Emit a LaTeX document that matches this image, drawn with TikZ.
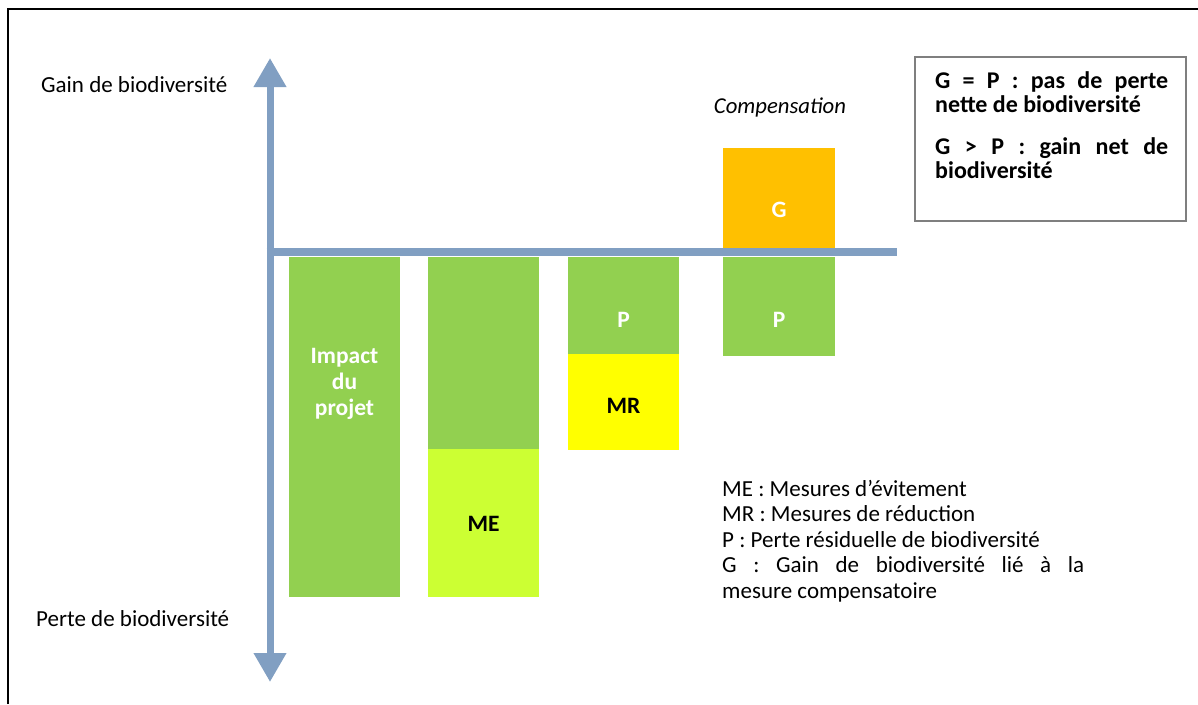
\documentclass[tikz,border=0pt]{standalone}
\usepackage{fontspec}
\setmainfont{Carlito}
\usetikzlibrary{arrows.meta}

\definecolor{vertbarre}{HTML}{92D050}
\definecolor{vertclair}{HTML}{CCFF33}
\definecolor{jaunebarre}{HTML}{FFFF00}
\definecolor{orangebarre}{HTML}{FFC000}
\definecolor{axebleu}{HTML}{819FC2}
\definecolor{cadregris}{HTML}{7F7F7F}

\tikzset{
    etiquette/.style={font=\fontsize{23.5}{26}\selectfont\bfseries, align=center, inner sep=0pt},
    texteaxe/.style={font=\fontsize{23}{25}\selectfont, anchor=west, inner sep=0pt}
}

\begin{document}
\begin{tikzpicture}[x=1pt,y=-1pt]
            \useasboundingbox (0,0) rectangle (1198,704);

            % cadre
            \draw[line width=2.5pt] (8,704) -- (8,9) -- (1198,9);

            % barres
            \fill[vertbarre] (289,257) rectangle (400,597);
            \fill[vertbarre] (428,257) rectangle (539,449);
            \fill[vertclair] (428,449) rectangle (539,597);
            \fill[vertbarre] (568,257) rectangle (679,354);
            \fill[jaunebarre] (568,354) rectangle (679,450);
            \fill[orangebarre] (723,148) rectangle (835,252);
            \fill[vertbarre] (723,257) rectangle (835,356);

            % axes
            \coordinate (bas) at (270,682);
            \coordinate (haut) at (270,58);
            \coordinate (origine) at (266.5,252);
            \coordinate (droite) at (897,252);
            \draw[axebleu, line width=7pt, {Triangle[width=31pt,length=29pt]}-{Triangle[width=31pt,length=29pt]}] (bas) -- (haut);
            \draw[axebleu, line width=8pt] (origine) -- (droite);

            \node[texteaxe] (gain) at (41,85) {Gain de biodiversité};
            \node[texteaxe] (perte) at (36,619) {Perte de biodiversité};

            % etiquettes des barres
            \node[etiquette, text=white] (impact) at (344.5,384) {Impact\\du\\projet};
            \node[etiquette] (me) at (483.5,524) {ME};
            \node[etiquette, text=white] (p1) at (623.5,320) {P};
            \node[etiquette] (mr) at (623.5,406) {MR};
            \node[etiquette, text=white] (g) at (779,210) {G};
            \node[etiquette, text=white] (p2) at (779,320) {P};
            \node[font=\fontsize{22.7}{25}\selectfont\itshape, inner sep=0pt] (comp) at (780,107) {Compensation};

            % encadre
            \draw[cadregris, line width=1.2pt] (915,57) rectangle (1186,221);
            \node[font=\fontsize{24}{24}\selectfont\bfseries, text width=233pt, align=justify,
                anchor=north west, inner sep=0pt] (bilan) at (935,71)
                {G = P : pas de perte\linebreak nette de biodiversité\par\vspace{18pt}
                 G > P : gain net de\linebreak biodiversité};

            % legende
            \node[font=\fontsize{23}{25.5}\selectfont, text width=362pt, align=justify,
                anchor=north west, inner sep=0pt] (legende) at (722,480)
                {ME : Mesures d’évitement\\
                 MR : Mesures de réduction\\
                 P : Perte résiduelle de biodiversité\\
                 G : Gain de biodiversité lié à la\linebreak mesure compensatoire};
        \end{tikzpicture}
\end{document}
